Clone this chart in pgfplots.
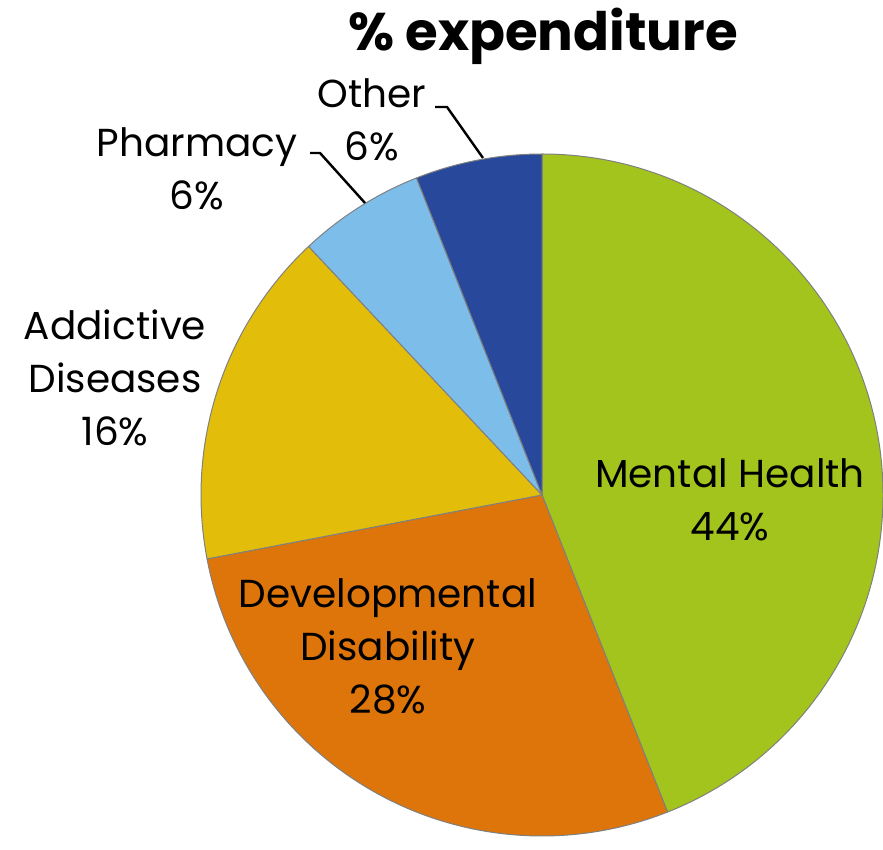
\documentclass[border=0pt]{standalone}
\usepackage{pgfplots}
\pgfplotsset{compat=1.18}
\usepackage{pgfplotstable}
\usepackage{fontspec}
\setmainfont{Poppins}

\definecolor{cMental}{RGB}{162,196,28}
\definecolor{cDevel}{RGB}{221,117,10}
\definecolor{cAddict}{RGB}{226,190,10}
\definecolor{cPharm}{RGB}{125,189,234}
\definecolor{cOther}{RGB}{40,72,155}

% share of expenditure, clockwise from 12 o'clock
\pgfplotstableread[col sep=comma]{
name,value,color
Mental Health,44,cMental
Developmental Disability,28,cDevel
Addictive Diseases,16,cAddict
Pharmacy,6,cPharm
Other,6,cOther
}\piedata

\begin{document}
\begin{tikzpicture}
\begin{axis}[
    x=1pt, y=1pt, scale only axis,
    xmin=0, xmax=883, ymin=0, ymax=849,
    hide axis, clip=false,
]
\gdef\cumangle{90}
\pgfplotsinvokeforeach{0,...,4}{
  \pgfplotstablegetelem{#1}{value}\of\piedata \let\val\pgfplotsretval
  \pgfplotstablegetelem{#1}{color}\of\piedata \let\col\pgfplotsretval
  \pgfmathsetmacro\startang{\cumangle}
  \pgfmathsetmacro\endang{\cumangle-3.6*\val}
  \edef\doit{\noexpand\fill[fill=\col, draw=black!50, line width=1pt, line join=round]
    (axis cs:542,354) -- ++(\startang:341pt)
    arc[start angle=\startang, end angle=\endang, radius=341pt] -- cycle;}
  \doit
  \global\let\cumangle\endang
}

% leader lines
\draw[line width=2.4pt] (axis cs:435,742) -- (axis cs:447,742) -- (axis cs:483,691);
\draw[line width=2.4pt] (axis cs:310,696) -- (axis cs:320,696) -- (axis cs:365,646);

\begin{scope}[every node/.style={align=center, font=\fontsize{39}{53}\selectfont}]
\node at (axis cs:730,349) {Mental Health\\44\%};
\node at (axis cs:388,203) {Developmental\\Disability\\28\%};
\node at (axis cs:115,471) {Addictive\\Diseases\\16\%};
\node at (axis cs:197,680) {Pharmacy\\6\%};
\node at (axis cs:372,729) {Other\\6\%};
\end{scope}
\node[font=\fontsize{53}{60}\selectfont\bfseries] at (axis cs:543,813) {\% expenditure};
\end{axis}
\pgfresetboundingbox
\path (0,0) rectangle (883pt,849pt);
\end{tikzpicture}
\end{document}
